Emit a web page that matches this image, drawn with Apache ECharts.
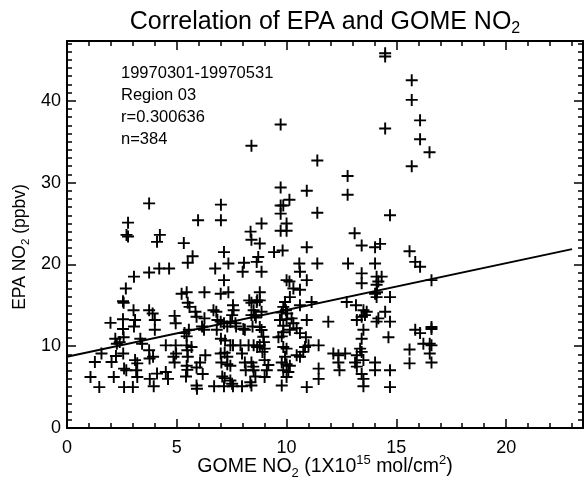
<!DOCTYPE html>
<html>
<head>
<meta charset="utf-8">
<script src="https://cdn.jsdelivr.net/npm/echarts@6/dist/echarts.min.js"></script>
<style>
html,body{margin:0;padding:0;background:#fff;}
#chart{width:588px;height:486px;}
</style>
</head>
<body>
<div id="chart"></div>
<script>
// ---- data ----
const gomeNO2 = [
  3.74,7.01,2.78,5.97,7.01,2.71,2.78,4.23,8.36,
  4.1,5.32,5.72,5.5,7.15,7.35,6.75,8.06,8.0,8.4,
  3.05,3.74,4.2,4.65,2.68,2.55,2.58,3.03,3.74,3.9,4.0,4.0,3.1,3.05,2.55,1.98,2.55,
  2.2,2.27,2.4,2.58,3.34,3.42,1.57,1.27,2.03,2.23,2.56,2.6,2.7,3.1,3.2,3.15,3.74,3.76,3.92,
  3.2,2.13,1.07,1.47,2.6,3.0,3.77,3.95,4.1,4.5,4.6,4.5,4.9,4.95,4.95,4.97,4.9,4.85,
  5.22,5.45,5.5,5.58,5.85,5.9,6.26,6.26,6.15,6.24,5.35,5.45,5.55,5.45,5.48,5.67,
  5.5,5.45,5.48,5.42,5.9,6.06,6.18,5.9,5.92,6.3,6.67,6.8,6.85,6.82,7.0,7.15,7.35,
  7.56,7.59,7.52,7.44,7.67,7.7,7.0,7.15,7.3,7.01,7.2,7.44,7.56,7.0,7.18,7.3,
  7.03,7.3,7.44,7.07,7.18,7.44,7.52,6.7,7.15,7.56,8.03,8.1,8.45,7.9,7.97,8.1,8.14,
  8.27,8.5,8.66,8.4,8.5,8.58,8.35,7.97,8.4,8.3,8.4,8.5,8.66,8.4,8.6,
  8.78,9.43,9.82,10.92,8.71,8.64,8.86,10.58,10.61,11.4,10.92,10.0,10.13,10.31,10.61,
  8.78,8.78,8.64,9.93,9.85,9.97,9.78,10.03,10.15,10.61,11.14,8.86,8.56,
  8.78,8.86,8.94,8.97,8.78,9.0,8.9,8.48,9.0,9.17,9.1,9.0,9.63,9.78,9.85,9.7,10.0,9.85,
  10.23,10.31,10.15,10.46,10.61,10.88,10.92,11.0,10.76,10.84,10.61,10.46,
  9.85,10.0,9.93,9.78,10.0,10.15,9.85,10.08,10.0,9.78,11.46,11.46,11.46,10.92,11.9,
  12.74,13.16,12.8,13.1,13.42,14.03,14.26,13.42,13.42,14.03,14.1,14.33,14.18,14.1,
  14.03,14.1,14.12,14.71,13.5,13.65,13.57,13.42,13.2,14.49,14.18,14.1,14.71,
  13.5,13.42,13.35,14.64,12.13,12.36,12.67,12.36,12.41,13.2,13.12,13.42,13.5,13.2,
  14.03,14.03,13.42,13.5,13.5,14.71,14.71,15.6,15.86,16.08,16.6,15.86,16.08,16.23,
  16.6,16.6,16.52,16.6,16.52,16.6,15.6,15.6,
  14.49,14.49,15.7,15.7,16.08,16.08,16.51,15.7,9.73,14.49,8.4,11.4,12.78,12.78,
  9.73,9.73,9.73,9.85,10.13,10.92,11.4,8.86,10.0,10.0,9.73,14.71
];
const epaNO2 = [
  27.45,27.3,25.1,25.4,25.4,23.6,23.4,23.6,24.0,
  22.75,22.6,21.0,20.2,21.5,20.1,19.5,20.2,19.1,23.0,
  18.5,19.0,19.5,19.5,17.05,15.5,15.3,14.4,14.4,14.0,13.2,12.0,13.2,12.4,13.3,12.85,12.1,
  10.9,10.3,10.5,11.1,10.9,10.3,9.1,8.07,8.07,8.8,9.1,7.26,7.06,8.3,7.9,7.06,9.5,8.5,8.7,
  6.24,6.24,6.24,5.0,5.0,5.0,6.0,5.1,6.65,6.85,6.0,10.1,13.7,12.8,10.1,9.1,8.0,8.7,
  16.4,16.6,15.3,14.8,14.2,13.6,16.6,13.4,12.4,12.0,11.6,11.2,12.0,10.1,9.5,9.9,
  8.7,7.6,7.1,6.3,7.4,8.0,6.6,5.2,4.8,8.9,14.4,14.2,13.2,12.0,16.4,18.07,16.6,
  15.0,14.4,13.8,13.0,12.8,12.4,13.0,12.8,12.4,10.9,10.7,10.1,10.1,9.1,9.2,8.7,
  8.0,7.8,7.6,6.3,6.1,5.8,5.4,5.1,5.1,5.1,12.1,12.0,12.4,10.1,9.1,8.0,7.06,
  10.1,10.1,9.9,8.0,7.06,6.3,5.6,5.1,5.2,15.6,15.3,14.4,15.6,13.8,13.5,
  22.55,21.5,21.7,22.1,20.9,20.3,19.1,20.1,19.1,20.1,18.07,18.07,17.9,17.05,16.9,
  16.6,15.6,15.4,15.4,14.8,14.4,14.1,14.0,16.0,15.0,15.4,14.2,13.8,
  12.35,11.97,11.15,10.5,10.1,9.7,9.3,7.5,8.3,7.7,7.06,6.24,11.1,11.2,11.7,13.2,13.3,12.5,
  13.4,12.8,12.0,12.2,11.6,11.1,13.2,10.1,9.3,9.9,8.7,8.9,
  9.9,9.7,8.7,8.0,7.8,7.6,7.06,6.85,6.24,5.2,10.1,7.26,6.0,5.0,13.0,
  15.4,15.0,20.1,23.8,22.3,22.1,22.5,18.9,17.7,20.1,18.5,18.5,17.9,17.5,
  16.4,16.0,16.6,16.0,14.4,14.2,13.8,13.6,13.2,14.2,13.4,13.0,13.0,
  12.0,10.9,9.7,11.1,9.1,8.9,9.1,8.0,7.06,8.9,8.0,9.3,8.3,7.5,
  8.0,7.06,6.6,6.0,5.1,7.06,5.0,21.6,20.3,19.7,18.07,12.0,11.6,10.3,
  12.35,12.1,10.3,10.1,9.1,8.0,9.6,7.9,
  45.8,45.4,42.5,40.1,37.6,35.3,33.7,32.0,37.1,36.6,34.5,32.7,30.8,28.5,
  29.4,27.2,26.2,27.2,27.9,29.0,26.3,25.0,25.0,24.1,24.1,26.0
];
// least-squares fit line endpoints
const fitX = [0, 23];
const fitY = [8.7, 21.86];
// axis ranges / ticks
const X_MAX = 23.5;
const Y_MAX = 47.3;
const xMajor = 5, yMajor = 10, minorStep = 1;
const infoLines = ['19970301-19970531', 'Region 03', 'r=0.300636', 'n=384'];

const FONT = "'Liberation Sans', Arial, Helvetica, sans-serif";
const points = gomeNO2.map((x, i) => [x, epaNO2[i]]);
const fitLine = fitX.map((x, i) => [x, fitY[i]]);

function xAxis(pos, interval, tickLen, showLabel, showLine) {
  return {
    type: 'value', position: pos, min: 0, max: X_MAX, interval: interval,
    axisLine: { show: showLine, onZero: false, lineStyle: { color: '#000', width: 2 } },
    axisTick: { show: true, inside: true, length: tickLen, lineStyle: { color: '#000', width: 1.5 } },
    axisLabel: { show: showLabel, color: '#000', fontSize: 18, fontFamily: FONT, margin: 11, showMaxLabel: false },
    splitLine: { show: false }
  };
}
function yAxis(pos, interval, tickLen, showLabel, showLine) {
  return {
    type: 'value', position: pos, min: 0, max: Y_MAX, interval: interval,
    axisLine: { show: showLine, onZero: false, lineStyle: { color: '#000', width: 2 } },
    axisTick: { show: true, inside: true, length: tickLen, lineStyle: { color: '#000', width: 1.5 } },
    axisLabel: { show: showLabel, color: '#000', fontSize: 18, fontFamily: FONT, margin: 6, showMaxLabel: false },
    splitLine: { show: false }
  };
}

const chart = echarts.init(document.getElementById('chart'), null, { renderer: 'canvas' });
const plusPath = 'path://M-1,-0.16L1,-0.16L1,0.16L-1,0.16Z M-0.16,-1L0.16,-1L0.16,1L-0.16,1Z';

chart.setOption({
  animation: false,
  backgroundColor: '#fff',
  grid: { left: 67, top: 41, width: 516, height: 387, containLabel: false },
  xAxis: [
    xAxis('bottom', xMajor, 9, true, true),
    xAxis('top', xMajor, 9, false, true),
    xAxis('bottom', minorStep, 5, false, false),
    xAxis('top', minorStep, 5, false, false)
  ],
  yAxis: [
    yAxis('left', yMajor, 9, true, true),
    yAxis('right', yMajor, 9, false, true),
    yAxis('left', minorStep, 5, false, false),
    yAxis('right', minorStep, 5, false, false)
  ],
  series: [
    {
      type: 'scatter', xAxisIndex: 0, yAxisIndex: 0, data: points,
      symbol: plusPath, symbolSize: 12,
      itemStyle: { color: '#000', opacity: 1 }
    },
    {
      type: 'line', xAxisIndex: 0, yAxisIndex: 0, data: fitLine,
      showSymbol: false, symbol: 'none',
      lineStyle: { color: '#000', width: 2 }
    }
  ],
  graphic: [
    {
      type: 'text', x: 325, y: 22,
      style: {
        text: '{t|Correlation of EPA and GOME NO}{s|2}',
        align: 'center', verticalAlign: 'middle',
        rich: {
          t: { fontSize: 25, fontFamily: FONT, fill: '#000', lineHeight: 30 },
          s: { fontSize: 16, fontFamily: FONT, fill: '#000', lineHeight: 15, verticalAlign: 'bottom' }
        }
      }
    },
    {
      type: 'text', x: 325, y: 467,
      style: {
        text: '{t|GOME NO}{s|2}{t| (1X10}{p|15}{t| mol/cm}{p|2}{t|)}',
        align: 'center', verticalAlign: 'middle',
        rich: {
          t: { fontSize: 19.5, fontFamily: FONT, fill: '#000', lineHeight: 26 },
          s: { fontSize: 13, fontFamily: FONT, fill: '#000', lineHeight: 13, verticalAlign: 'bottom' },
          p: { fontSize: 13, fontFamily: FONT, fill: '#000', lineHeight: 14, verticalAlign: 'top' }
        }
      }
    },
    {
      type: 'text', x: 20, y: 247, rotation: Math.PI / 2,
      style: {
        text: '{t|EPA NO}{s|2}{t| (ppbv)}',
        align: 'center', verticalAlign: 'middle',
        rich: {
          t: { fontSize: 17.5, fontFamily: FONT, fill: '#000', lineHeight: 24 },
          s: { fontSize: 11.5, fontFamily: FONT, fill: '#000', lineHeight: 11, verticalAlign: 'bottom' }
        }
      }
    },
    {
      type: 'text', x: 121, y: 62,
      style: {
        text: infoLines.join('\n'),
        fontSize: 16.5, fontFamily: FONT, fill: '#000', lineHeight: 22,
        align: 'left', verticalAlign: 'top'
      }
    }
  ]
});
</script>
</body>
</html>
